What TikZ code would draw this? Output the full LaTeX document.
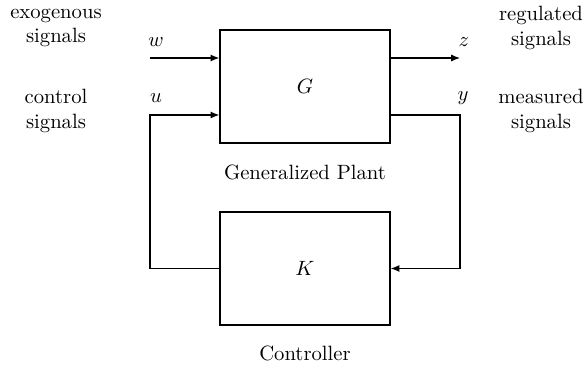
\documentclass[tikz,border=0pt]{standalone}
\usetikzlibrary{positioning, arrows.meta}
\begin{document}
\begin{tikzpicture}[
    x=0.017cm, y=-0.017cm,
    blk/.style = {draw, semithick, minimum width=2.89cm, minimum height=1.92cm},
    arr/.style = {-{Latex[length=1.5mm,width=1.2mm]}, semithick},
    lbl/.style = {align=center},
  ]
    \useasboundingbox (0,0) rectangle (587,366);
    % blocks
    \node[blk] (G) at (305,86.5) {$G$};
    \node[blk] (K) at (305,268.5) {$K$};
    \node (plant) at (305,172) {Generalized Plant};
    \node (ctrl) at (305,353) {Controller};
    % signal ends
    \coordinate (win) at (150,58);
    \coordinate (zout) at (460,58);
    \coordinate (ul) at (150,115);
    \coordinate (yr) at (460,115);
    \draw[arr] (win) -- (win -| G.west);
    \draw[arr] (G.east |- zout) -- (zout);
    \draw[arr] (K.west) -| (ul) -- (ul -| G.west);
    \draw[arr] (G.east |- yr) -- (yr) |- (K.east);
    % signal names
    \node (w) at (156,42) {$w$};
    \node (z) at (464,42) {$z$};
    \node (u) at (156,98) {$u$};
    \node (y) at (463,98) {$y$};
    % side notes
    \node[lbl] (exo) at (56,28) {exogenous\\signals};
    \node[lbl] (reg) at (541,28) {regulated\\signals};
    \node[lbl] (con) at (56,111) {control\\signals};
    \node[lbl] (mea) at (541,111) {measured\\signals};
  \end{tikzpicture}
\end{document}
